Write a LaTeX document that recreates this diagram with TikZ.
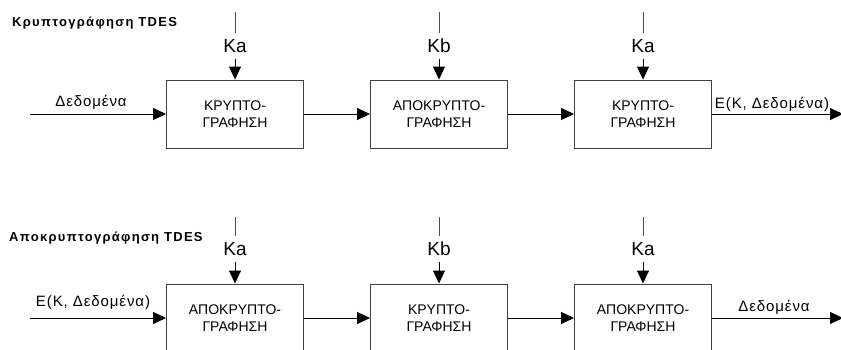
\documentclass[tikz,border=0pt]{standalone}
\usepackage{fontspec}
\setmainfont{Liberation Sans}
\usetikzlibrary{arrows.meta}
\begin{document}
\begin{tikzpicture}[x=1pt,y=-1pt,
  blockbox/.style={draw=black!75, line width=0.9pt, minimum width=137pt, minimum height=68pt,
    align=center, inner sep=0pt, font=\fontsize{14}{17.5}\selectfont},
  keylabel/.style={inner xsep=0pt, inner ysep=6pt, font=\fontsize{19}{19}\selectfont},
  datalabel/.style={inner sep=0pt, font=\fontsize{15}{16}\selectfont\addfontfeatures{LetterSpace=6}},
  titlelabel/.style={inner sep=0pt, anchor=west, font=\fontsize{13}{14}\selectfont\bfseries\addfontfeatures{LetterSpace=10}},
  flow/.style={line width=0.9pt, -{Triangle[length=13pt,width=12pt]}},
  plain/.style={line width=0.9pt, draw=black!70}
]
\useasboundingbox (0,0) rectangle (841,349);
\clip (0,0) rectangle (841,349);

% titles
\node[titlelabel] (t1) at (12,23) {Κρυπτογράφηση TDES};
\node[titlelabel] (t2) at (9,238) {Αποκρυπτογράφηση TDES};

% top row
\node[blockbox] (e1) at (235,114) {ΚΡΥΠΤΟ-\\ΓΡΑΦΗΣΗ};
\node[blockbox] (e2) at (439,114) {ΑΠΟΚΡΥΠΤΟ-\\ΓΡΑΦΗΣΗ};
\node[blockbox] (e3) at (643,114) {ΚΡΥΠΤΟ-\\ΓΡΑΦΗΣΗ};

\node[keylabel] (ka1) at (235,46) {Ka};
\node[keylabel] (kb1) at (439,46) {Kb};
\node[keylabel] (ka2) at (643,46) {Ka};
\coordinate (ka1t) at (235,12);
\coordinate (kb1t) at (439,12);
\coordinate (ka2t) at (643,12);
\draw[plain] (ka1t) -- (ka1.north);
\draw[plain] (kb1t) -- (kb1.north);
\draw[plain] (ka2t) -- (ka2.north);
\draw[flow] (ka1.south) -- (e1.north);
\draw[flow] (kb1.south) -- (e2.north);
\draw[flow] (ka2.south) -- (e3.north);

\coordinate (in1) at (30,114);
\coordinate (out1) at (843,114);
\draw[flow] (in1) -- (e1.west);
\draw[flow] (e1.east) -- (e2.west);
\draw[flow] (e2.east) -- (e3.west);
\draw[flow] (e3.east) -- (out1);
\node[datalabel] (l1) at (91,102) {Δεδομένα};
\node[datalabel] (l2) at (772,104) {E(K, Δεδομένα)};

% bottom row
\node[blockbox] (d1) at (235,318) {ΑΠΟΚΡΥΠΤΟ-\\ΓΡΑΦΗΣΗ};
\node[blockbox] (d2) at (439,318) {ΚΡΥΠΤΟ-\\ΓΡΑΦΗΣΗ};
\node[blockbox] (d3) at (643,318) {ΑΠΟΚΡΥΠΤΟ-\\ΓΡΑΦΗΣΗ};

\node[keylabel] (ka3) at (235,249) {Ka};
\node[keylabel] (kb2) at (439,249) {Kb};
\node[keylabel] (ka4) at (643,249) {Ka};
\coordinate (ka3t) at (235,217);
\coordinate (kb2t) at (439,217);
\coordinate (ka4t) at (643,217);
\draw[plain] (ka3t) -- (ka3.north);
\draw[plain] (kb2t) -- (kb2.north);
\draw[plain] (ka4t) -- (ka4.north);
\draw[flow] (ka3.south) -- (d1.north);
\draw[flow] (kb2.south) -- (d2.north);
\draw[flow] (ka4.south) -- (d3.north);

\coordinate (in2) at (30,318);
\coordinate (out2) at (843,318);
\draw[flow] (in2) -- (d1.west);
\draw[flow] (d1.east) -- (d2.west);
\draw[flow] (d2.east) -- (d3.west);
\draw[flow] (d3.east) -- (out2);
\node[datalabel] (l3) at (93,302) {E(K, Δεδομένα)};
\node[datalabel] (l4) at (774,307) {Δεδομένα};
\end{tikzpicture}
\end{document}
